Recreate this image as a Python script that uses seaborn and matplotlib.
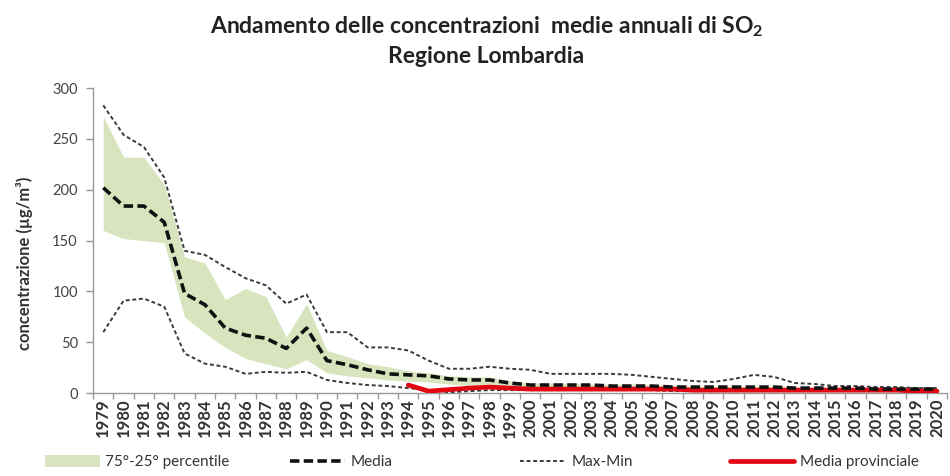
import numpy as np
import pandas as pd
import matplotlib
matplotlib.use("Agg")
import matplotlib.pyplot as plt
import seaborn as sns
from matplotlib.patches import Patch
from matplotlib.lines import Line2D

years = [str(y) for y in range(1979, 2021)]
max_vals = [283, 254, 242, 212, 140, 136, 124, 113, 106, 88, 97,
            60, 60, 45, 45, 42, 32, 24, 24, 26, 24,
            23, 19, 19, 19, 19, 18, 16, 14, 12, 11,
            14, 18, 16, 10, 9, 7, 7, 6, 6, 5, 5]
media_vals = [202, 184, 184, 168, 98, 87, 64, 57, 54, 44, 64,
              32, 28, 23, 19, 18, 17, 14, 13, 13, 10,
              8, 8, 8, 8, 7, 7, 7, 6, 6, 6,
              6, 6, 6, 5, 5, 5, 5, 4, 4, 4, 4]
p75_vals = [272, 232, 232, 205, 134, 128, 92, 103, 95, 55, 88,
            42, 36, 29, 26, 22, 20, 17, 16, 16, 12,
            10, 10, 10, 9, 9, 9, 8, 8, 7, 7,
            7, 7, 7, 6, 6, 6, 5, 5, 5, 5, 4]
p25_vals = [160, 152, 150, 148, 75, 59, 45, 34, 29, 24, 33,
            20, 17, 15, 13, 12, 11, 9, 8, 9, 7,
            5, 5, 5, 5, 5, 4, 4, 4, 4, 4,
            4, 4, 3, 3, 3, 3, 3, 3, 2, 2, 2]
min_vals = [60, 91, 93, 85, 39, 29, 26, 19, 21, 20, 21,
            13, 10, 8, 7, 5, 3, 1, 2, 3, 3,
            3, 3, 3, 3, 3, 3, 3, 2, 2, 2,
            2, 2, 2, 2, 2, 2, 2, 2, 2, 2, 2]
prov_vals = [np.nan] * 15 + [8, 2, np.nan, 5, 6, 5,
             4, 4, 4, 4, 4, 4, 4, 4, 3, 3,
             3, 3, 3, 3, 3, 3, 3, 3, 3, 2, 2]
legend_labels = ["75°-25° percentile", "Media", "Max-Min", "Media provinciale"]

sns.set_theme(style="white")
plt.rcParams['font.family'] = ['Lato', 'DejaVu Sans']
plt.rcParams['mathtext.fontset'] = 'custom'
plt.rcParams['mathtext.rm'] = 'Lato:bold'
plt.rcParams['mathtext.it'] = 'Lato:bold'
plt.rcParams['mathtext.bf'] = 'Lato:bold'

df = pd.DataFrame({"x": np.arange(len(years)), "max": max_vals, "media": media_vals,
                   "p75": p75_vals, "p25": p25_vals, "min": min_vals, "prov": prov_vals})

fig = plt.figure(figsize=(9.5, 4.76), dpi=100)
ax = fig.add_axes([0.098, 0.174, 0.899, 0.641])

green = "#d7e4bd"
dot_col = "#3a3a3a"
red = "#e30613"
media_dash = [2.6, 1.2]
dot_dash = [2, 1.4]
ax.fill_between(df["x"], df["p25"], df["p75"], color=green, linewidth=0, zorder=1)
sns.lineplot(data=df, x="x", y="max", ax=ax, color=dot_col, linewidth=1.4, zorder=3)
ax.lines[-1].set_dashes(dot_dash)
sns.lineplot(data=df, x="x", y="min", ax=ax, color=dot_col, linewidth=1.4, zorder=3)
ax.lines[-1].set_dashes(dot_dash)
sns.lineplot(data=df, x="x", y="prov", ax=ax, color=red, linewidth=3.4, zorder=3.5)
sns.lineplot(data=df, x="x", y="media", ax=ax, color="#111111", linewidth=2.6, zorder=4)
ax.lines[-1].set_dashes(media_dash)

ax.set_xlim(-0.5, len(years) - 0.5)
ax.set_ylim(0, 300)
ax.set_yticks([0, 50, 100, 150, 200, 250, 300])
ax.set_xticks(np.arange(len(years)))
ax.set_xticklabels(years, rotation=90, fontsize=12, fontweight='bold', color='#333333')
ax.set_xticks(np.arange(-0.5, len(years)), minor=True)
ax.tick_params(axis='x', which='major', length=0, pad=4)
ax.tick_params(axis='x', which='minor', length=4, color='#999999', width=1, direction='out', bottom=True)
ax.tick_params(axis='y', which='major', length=5, color='#999999', width=1, direction='out', left=True,
               labelsize=10.5, labelcolor='#444444', pad=6)
for s in ['top', 'right']:
    ax.spines[s].set_visible(False)
for s in ['left', 'bottom']:
    ax.spines[s].set_color('#999999')
    ax.spines[s].set_linewidth(1)
ax.set_xlabel("")
ax.set_ylabel("")
fig.text(25 / 950, 1 - 263 / 476, "concentrazione (µg/m³)", rotation=90, ha='center', va='center',
         fontsize=12, fontweight='bold', color='#333333')

fig.text(0.512, 0.943, "Andamento delle concentrazioni  medie annuali di SO$_2$", ha='center', va='center',
         fontsize=16.5, fontweight='bold', color='#222222')
fig.text(0.512, 0.882, "Regione Lombardia", ha='center', va='center',
         fontsize=16.5, fontweight='bold', color='#222222')

handles = [Patch(facecolor=green, edgecolor='none'),
           Line2D([], [], color="#111111", linewidth=2.6, dashes=media_dash),
           Line2D([], [], color=dot_col, linewidth=1.4, dashes=dot_dash),
           Line2D([], [], color=red, linewidth=3.4)]
starts_px = [45, 290, 520, 730]
hlens = [3.6, 3.6, 3.0, 4.2]
for h, lab, xs, hl in zip(handles, legend_labels, starts_px, hlens):
    lg = fig.legend([h], [lab], loc='center left', bbox_to_anchor=(xs / 950, 1 - 462 / 476),
                    frameon=False, fontsize=11, handlelength=hl, handleheight=0.9,
                    handletextpad=0.35, borderpad=0, borderaxespad=0)
    for t in lg.get_texts():
        t.set_color('#333333')

fig.savefig("out.png", dpi=100)
